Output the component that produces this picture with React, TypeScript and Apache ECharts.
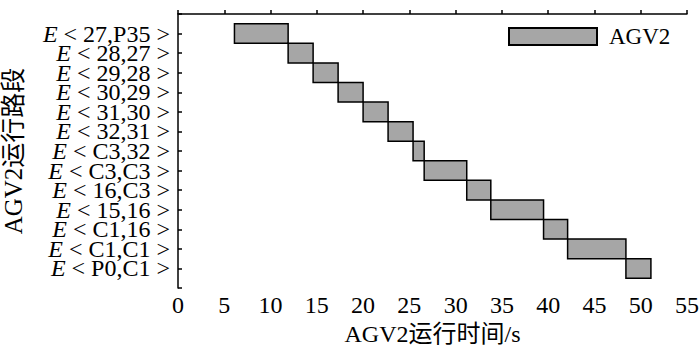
import React, { useEffect, useRef } from "react";
import * as echarts from "echarts";

const segments = [
  "27,P35", "28,27", "29,28", "30,29", "31,30", "32,31", "C3,32",
  "C3,C3", "16,C3", "15,16", "C1,16", "C1,C1", "P0,C1",
];
const startTimes = [6.1, 11.9, 14.6, 17.3, 20.0, 22.7, 25.4, 26.6, 31.2, 33.8, 39.5, 42.1, 48.4];
const endTimes = [11.9, 14.6, 17.3, 20.0, 22.7, 25.4, 26.6, 31.2, 33.8, 39.5, 42.1, 48.4, 51.1];
const seriesName = "AGV2";
const xTitle = "AGV2运行时间/s";
const yTitle = "AGV2运行路段";

const FONT = "'Liberation Serif', 'Noto Sans CJK SC', serif";

export default function App() {
  const ref = useRef<HTMLDivElement>(null);
  useEffect(() => {
    if (!ref.current) return;
    const chart = echarts.init(ref.current, undefined, { renderer: "svg" });
    const data = segments.map((_, i) => [i + 1, startTimes[i], endTimes[i]]);
    chart.setOption({
      animation: false,
      textStyle: { fontFamily: FONT, color: "#000" },
      grid: { left: 178, right: 13, top: 14, bottom: 58, containLabel: false, outerBoundsMode: "none" },
      legend: {
        show: true,
        data: [{ name: seriesName, icon: "rect" }],
        left: 508,
        top: 25,
        padding: 0,
        itemWidth: 88,
        itemHeight: 17,
        textStyle: { fontFamily: FONT, fontSize: 23, color: "#000", padding: [0, 0, 0, 7] },
      },
      xAxis: {
        type: "value",
        min: 0,
        max: 55,
        interval: 5,
        splitLine: { show: false },
        axisLine: { show: true, lineStyle: { color: "#000", width: 1.5 } },
        axisTick: { show: true, inside: true, length: 4, lineStyle: { color: "#000", width: 1.5 } },
        axisLabel: { fontFamily: FONT, fontSize: 24, color: "#000", margin: 5 },
        name: xTitle,
        nameLocation: "middle",
        nameGap: 32,
        nameTextStyle: { fontFamily: FONT, fontSize: 24, lineHeight: 24, color: "#000" },
      },
      yAxis: {
        type: "value",
        min: 0,
        max: 14,
        interval: 1,
        inverse: true,
        splitLine: { show: false },
        axisLine: { show: true, lineStyle: { color: "#000", width: 1.5 } },
        axisTick: { show: true, inside: true, length: 4, lineStyle: { color: "#000", width: 1.5 } },
        axisLabel: {
          fontFamily: FONT,
          fontSize: 24,
          lineHeight: 19,
          color: "#000",
          margin: 8,
          formatter: (v: number) => {
            const i = Math.round(v) - 1;
            if (i < 0 || i >= segments.length) return "";
            return "{i|E} < " + segments[i] + " >";
          },
          rich: {
            i: { fontFamily: FONT, fontStyle: "italic", fontSize: 24, lineHeight: 19, color: "#000" },
          },
        },
        name: yTitle,
        nameLocation: "middle",
        nameGap: 152,
        nameRotate: 90,
        nameTextStyle: { fontFamily: FONT, fontSize: 25, lineHeight: 25, color: "#000" },
      },
      series: [
        {
          type: "custom",
          name: seriesName,
          data,
          itemStyle: { color: "#a6a6a6", borderColor: "#000", borderWidth: 1.5 },
          renderItem: (params: any, api: any) => {
            const row = api.value(0);
            const s = api.value(1);
            const e = api.value(2);
            const p1 = api.coord([s, row - 0.5]);
            const p2 = api.coord([e, row + 0.5]);
            return {
              type: "rect",
              shape: {
                x: p1[0],
                y: Math.min(p1[1], p2[1]),
                width: p2[0] - p1[0],
                height: Math.abs(p2[1] - p1[1]),
              },
              style: { fill: "#a6a6a6", stroke: "#000", lineWidth: 1.5 },
            };
          },
          encode: { x: [1, 2], y: 0 },
        },
      ],
    });
    return () => chart.dispose();
  }, []);
  return (
    <div style={{ position: "absolute", left: 0, top: 0 }}>
      <div ref={ref} style={{ width: 700, height: 346 }} />
    </div>
  );
}
